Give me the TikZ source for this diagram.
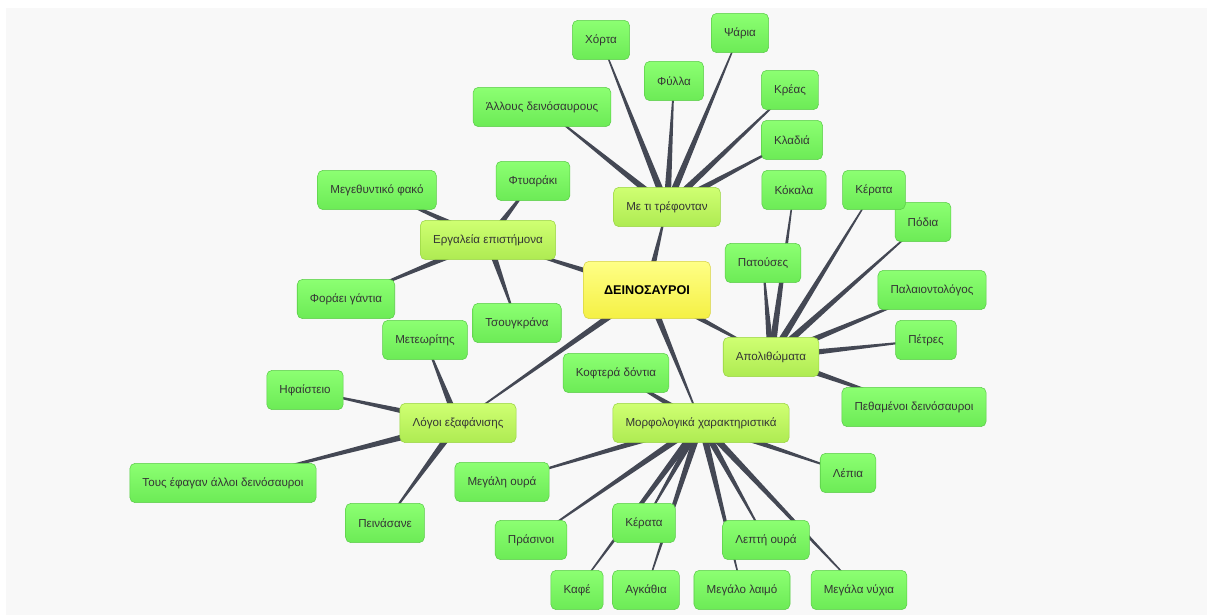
\documentclass[tikz,border=0pt]{standalone}
\usepackage{fontspec}
\setmainfont{Liberation Sans}
\usepackage{tikz}
\usetikzlibrary{calc,backgrounds}

\definecolor{leaftop}{HTML}{8CFF72}
\definecolor{leafbot}{HTML}{6CEB56}
\definecolor{leafrim}{HTML}{5ACB48}
\definecolor{midtop}{HTML}{CFFF72}
\definecolor{midbot}{HTML}{AEEB52}
\definecolor{midrim}{HTML}{99D442}
\definecolor{roottop}{HTML}{FFFF86}
\definecolor{rootbot}{HTML}{F4F044}
\definecolor{rootrim}{HTML}{D6D244}
\definecolor{wedgecol}{HTML}{444854}
\definecolor{inkcol}{HTML}{353535}
\definecolor{panelcol}{HTML}{F8F8F8}

\tikzset{
  box/.style={rounded corners=4pt,inner xsep=9.5pt,minimum height=29.5pt,text=inkcol,font=\fontsize{8.7}{10}\selectfont},
  leaf/.style={box,draw=leafrim,top color=leaftop,bottom color=leafbot},
  topic/.style={box,draw=midrim,top color=midtop,bottom color=midbot},
  rootbox/.style={box,draw=rootrim,top color=roottop,bottom color=rootbot,minimum width=95pt,minimum height=43pt,font=\fontsize{9.5}{11}\selectfont\bfseries,text=black}
}

% tapered branch, wide at the parent
\newcommand\taper[2]{\fill[wedgecol] ($(#1)!2.7pt!90:(#2)$) -- ($(#2)!0.3pt!-90:(#1)$) -- ($(#2)!0.3pt!90:(#1)$) -- ($(#1)!2.7pt!-90:(#2)$) -- cycle;}

\begin{document}
\begin{tikzpicture}[x=0.75pt,y=-0.75pt]
\useasboundingbox (0,0) rectangle (1207,615);

% centre and topics
\node[rootbox] (root) at (647,290) {ΔΕΙΝΟΣΑΥΡΟΙ};
\node[topic] (food) at (667,207) {Με τι τρέφονταν};
\node[topic] (tools) at (488,240) {Εργαλεία επιστήμονα};
\node[topic] (fossils) at (771,357) {Απολιθώματα};
\node[topic] (extinct) at (458,423) {Λόγοι εξαφάνισης};
\node[topic] (morph) at (701,423) {Μορφολογικά χαρακτηριστικά};

% food
\node[leaf] (horta) at (601,40) {Χόρτα};
\node[leaf] (fylla) at (674,81) {Φύλλα};
\node[leaf] (psaria) at (740,33) {Ψάρια};
\node[leaf] (kreas) at (790,90) {Κρέας};
\node[leaf] (kladia) at (792,140) {Κλαδιά};
\node[leaf] (allous) at (542,107) {Άλλους δεινόσαυρους};

% tools
\node[leaf] (fako) at (377,190) {Μεγεθυντικό φακό};
\node[leaf] (ftyar) at (533,181) {Φτυαράκι};
\node[leaf] (gantia) at (346,299) {Φοράει γάντια};
\node[leaf] (tsoug) at (517,323) {Τσουγκράνα};

% fossils
\node[leaf] (kokala) at (794,190) {Κόκαλα};
\node[leaf] (podia) at (923,222) {Πόδια};
\node[leaf] (kerataA) at (874,190) {Κέρατα};
\node[leaf] (patoy) at (763,263) {Πατούσες};
\node[leaf] (palaio) at (932,290) {Παλαιοντολόγος};
\node[leaf] (petres) at (926,340) {Πέτρες};
\node[leaf] (pethamenoi) at (914,407) {Πεθαμένοι δεινόσαυροι};

% extinction
\node[leaf] (meteor) at (425,340) {Μετεωρίτης};
\node[leaf] (hfaist) at (305,390) {Ηφαίστειο};
\node[leaf] (efagan) at (223,483) {Τους έφαγαν άλλοι δεινόσαυροι};
\node[leaf] (peinas) at (385,523) {Πεινάσανε};

% looks
\node[leaf] (dontia) at (616,373) {Κοφτερά δόντια};
\node[leaf] (oura) at (502,482) {Μεγάλη ουρά};
\node[leaf] (lepia) at (848,473) {Λέπια};
\node[leaf] (prasinoi) at (531,540) {Πράσινοι};
\node[leaf] (kerataB) at (644,523) {Κέρατα};
\node[leaf] (leptioura) at (766,540) {Λεπτή ουρά};
\node[leaf] (kafe) at (577,590) {Καφέ};
\node[leaf] (agkathia) at (646,590) {Αγκάθια};
\node[leaf] (laimo) at (742,590) {Μεγάλο λαιμό};
\node[leaf] (nyxia) at (859,590) {Μεγάλα νύχια};

\begin{pgfonlayer}{background}
\fill[panelcol] (6,8) rectangle (1207,615);
\foreach \a/\b in {root/food,root/tools,root/fossils,root/extinct,root/morph,
  food/horta,food/fylla,food/psaria,food/kreas,food/kladia,food/allous,
  tools/fako,tools/ftyar,tools/gantia,tools/tsoug,
  fossils/kokala,fossils/podia,fossils/kerataA,fossils/patoy,fossils/palaio,fossils/petres,fossils/pethamenoi,
  extinct/meteor,extinct/hfaist,extinct/efagan,extinct/peinas,
  morph/dontia,morph/oura,morph/lepia,morph/prasinoi,morph/kerataB,morph/leptioura,morph/kafe,morph/agkathia,morph/laimo,morph/nyxia}
  {\taper{\a}{\b}}
\end{pgfonlayer}
\end{tikzpicture}
\end{document}
